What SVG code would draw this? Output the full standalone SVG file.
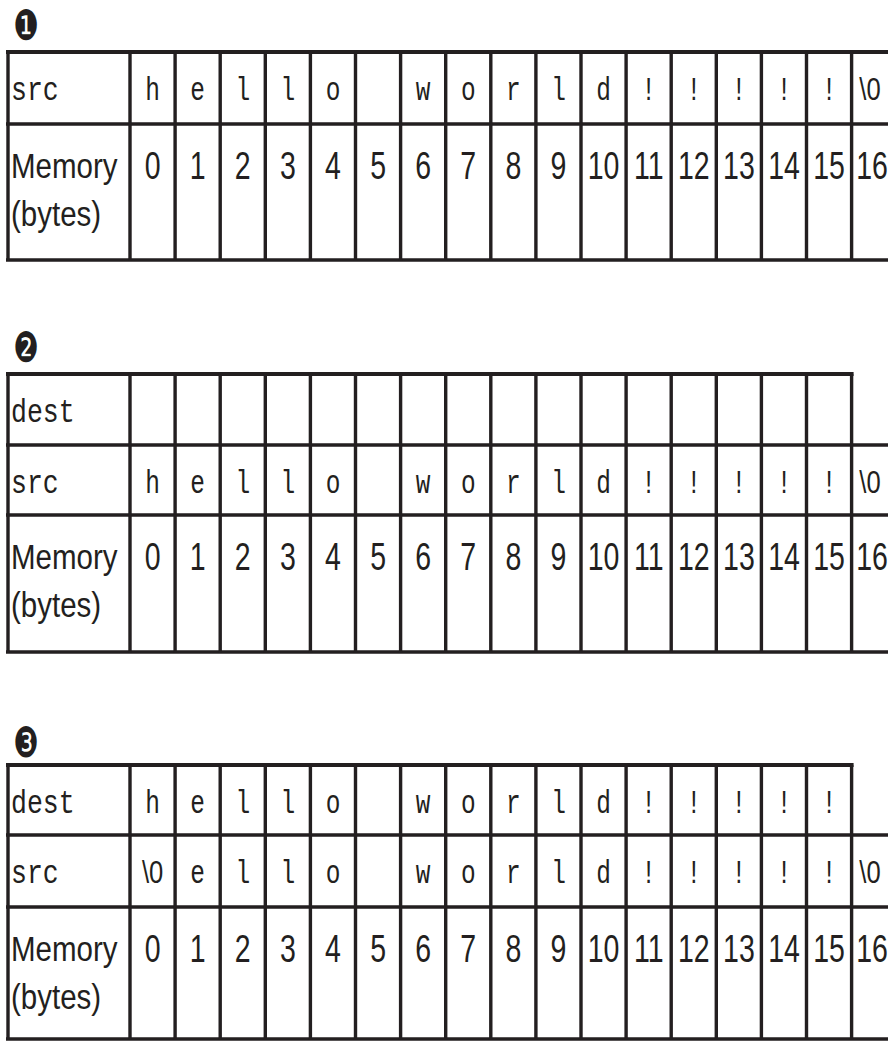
<svg xmlns="http://www.w3.org/2000/svg" width="888" height="1042" viewBox="0 0 888 1042">
<style>
.g{stroke:#231f20;stroke-width:3.4;fill:none}
.b{stroke:#231f20;stroke-width:4.2;fill:none}
.m{font-family:"Liberation Mono",monospace;font-size:34px;fill:#231f20;text-anchor:middle}
.ml{font-family:"Liberation Mono",monospace;font-size:34px;fill:#231f20}
.z{font-family:"Liberation Sans",sans-serif;font-size:32px;fill:#231f20;text-anchor:middle}
.s{font-family:"Liberation Sans",sans-serif;font-size:38px;fill:#231f20;text-anchor:middle}
.sl{font-family:"Liberation Sans",sans-serif;font-size:36px;fill:#231f20}
.c{font-family:"DejaVu Sans",sans-serif;font-size:42px;fill:#231f20;text-anchor:middle}
</style>
<rect width="888" height="1042" fill="#fff"/>
<g id="connectors"/>

<g id="panel1">
  <text class="c" transform="translate(26,40) scale(0.68,1)">❶</text>
  <g id="grid1">
    <path class="b" d="M6 52H890"/>
    <path class="g" d="M6 124H890M6 260H890"/>
    <path class="g" d="M8 52V261M130 52V261M175.1 52V261M220.2 52V261M265.3 52V261M310.4 52V261M355.5 52V261M400.6 52V261M445.7 52V261M490.8 52V261M535.9 52V261M581 52V261M626.1 52V261M671.2 52V261M716.3 52V261M761.4 52V261M806.5 52V261M851.6 52V261"/>
  </g>
  <g id="row1-src">
    <text class="ml" transform="translate(11,100) scale(0.78,1)">src</text>
    <text class="m" transform="translate(152.6,100) scale(0.72,1)">h</text>
    <text class="m" transform="translate(197.7,100) scale(0.72,1)">e</text>
    <text class="m" transform="translate(242.8,100) scale(0.72,1)">l</text>
    <text class="m" transform="translate(287.9,100) scale(0.72,1)">l</text>
    <text class="m" transform="translate(333,100) scale(0.72,1)">o</text>
    <text class="m" transform="translate(423.2,100) scale(0.72,1)">w</text>
    <text class="m" transform="translate(468.3,100) scale(0.72,1)">o</text>
    <text class="m" transform="translate(513.4,100) scale(0.72,1)">r</text>
    <text class="m" transform="translate(558.5,100) scale(0.72,1)">l</text>
    <text class="m" transform="translate(603.6,100) scale(0.72,1)">d</text>
    <text class="m" transform="translate(648.7,100) scale(0.72,1)">!</text>
    <text class="m" transform="translate(693.8,100) scale(0.72,1)">!</text>
    <text class="m" transform="translate(738.9,100) scale(0.72,1)">!</text>
    <text class="m" transform="translate(784,100) scale(0.72,1)">!</text>
    <text class="m" transform="translate(829.1,100) scale(0.72,1)">!</text>
    <text class="z" transform="translate(870,100) scale(0.8,1)">\0</text>
  </g>
  <g id="row1-mem">
    <text class="sl" transform="translate(11,178) scale(0.82,1)">Memory</text>
    <text class="sl" transform="translate(11,226) scale(0.82,1)">(bytes)</text>
    <text class="s" transform="translate(152.6,179) scale(0.75,1)">0</text>
    <text class="s" transform="translate(197.7,179) scale(0.75,1)">1</text>
    <text class="s" transform="translate(242.8,179) scale(0.75,1)">2</text>
    <text class="s" transform="translate(287.9,179) scale(0.75,1)">3</text>
    <text class="s" transform="translate(333,179) scale(0.75,1)">4</text>
    <text class="s" transform="translate(378.1,179) scale(0.75,1)">5</text>
    <text class="s" transform="translate(423.2,179) scale(0.75,1)">6</text>
    <text class="s" transform="translate(468.3,179) scale(0.75,1)">7</text>
    <text class="s" transform="translate(513.4,179) scale(0.75,1)">8</text>
    <text class="s" transform="translate(558.5,179) scale(0.75,1)">9</text>
    <text class="s" transform="translate(603.6,179) scale(0.75,1)">10</text>
    <text class="s" transform="translate(648.7,179) scale(0.75,1)">11</text>
    <text class="s" transform="translate(693.8,179) scale(0.75,1)">12</text>
    <text class="s" transform="translate(738.9,179) scale(0.75,1)">13</text>
    <text class="s" transform="translate(784,179) scale(0.75,1)">14</text>
    <text class="s" transform="translate(829.1,179) scale(0.75,1)">15</text>
    <text class="s" transform="translate(872,179) scale(0.75,1)">16</text>
  </g>
</g>

<g id="panel2">
  <text class="c" transform="translate(26,362) scale(0.68,1)">❷</text>
  <g id="grid2">
    <path class="b" d="M6 374H853.6"/>
    <path class="g" d="M6 445H890M6 515H890M6 652H890"/>
    <path class="g" d="M8 374V653M130 374V653M175.1 374V653M220.2 374V653M265.3 374V653M310.4 374V653M355.5 374V653M400.6 374V653M445.7 374V653M490.8 374V653M535.9 374V653M581 374V653M626.1 374V653M671.2 374V653M716.3 374V653M761.4 374V653M806.5 374V653M851.6 374V653"/>
  </g>
  <g id="row2-dest">
    <text class="ml" transform="translate(11,422) scale(0.78,1)">dest</text>
  </g>
  <g id="row2-src">
    <text class="ml" transform="translate(11,493) scale(0.78,1)">src</text>
    <text class="m" transform="translate(152.6,493) scale(0.72,1)">h</text>
    <text class="m" transform="translate(197.7,493) scale(0.72,1)">e</text>
    <text class="m" transform="translate(242.8,493) scale(0.72,1)">l</text>
    <text class="m" transform="translate(287.9,493) scale(0.72,1)">l</text>
    <text class="m" transform="translate(333,493) scale(0.72,1)">o</text>
    <text class="m" transform="translate(423.2,493) scale(0.72,1)">w</text>
    <text class="m" transform="translate(468.3,493) scale(0.72,1)">o</text>
    <text class="m" transform="translate(513.4,493) scale(0.72,1)">r</text>
    <text class="m" transform="translate(558.5,493) scale(0.72,1)">l</text>
    <text class="m" transform="translate(603.6,493) scale(0.72,1)">d</text>
    <text class="m" transform="translate(648.7,493) scale(0.72,1)">!</text>
    <text class="m" transform="translate(693.8,493) scale(0.72,1)">!</text>
    <text class="m" transform="translate(738.9,493) scale(0.72,1)">!</text>
    <text class="m" transform="translate(784,493) scale(0.72,1)">!</text>
    <text class="m" transform="translate(829.1,493) scale(0.72,1)">!</text>
    <text class="z" transform="translate(870,493) scale(0.8,1)">\0</text>
  </g>
  <g id="row2-mem">
    <text class="sl" transform="translate(11,569) scale(0.82,1)">Memory</text>
    <text class="sl" transform="translate(11,617) scale(0.82,1)">(bytes)</text>
    <text class="s" transform="translate(152.6,570) scale(0.75,1)">0</text>
    <text class="s" transform="translate(197.7,570) scale(0.75,1)">1</text>
    <text class="s" transform="translate(242.8,570) scale(0.75,1)">2</text>
    <text class="s" transform="translate(287.9,570) scale(0.75,1)">3</text>
    <text class="s" transform="translate(333,570) scale(0.75,1)">4</text>
    <text class="s" transform="translate(378.1,570) scale(0.75,1)">5</text>
    <text class="s" transform="translate(423.2,570) scale(0.75,1)">6</text>
    <text class="s" transform="translate(468.3,570) scale(0.75,1)">7</text>
    <text class="s" transform="translate(513.4,570) scale(0.75,1)">8</text>
    <text class="s" transform="translate(558.5,570) scale(0.75,1)">9</text>
    <text class="s" transform="translate(603.6,570) scale(0.75,1)">10</text>
    <text class="s" transform="translate(648.7,570) scale(0.75,1)">11</text>
    <text class="s" transform="translate(693.8,570) scale(0.75,1)">12</text>
    <text class="s" transform="translate(738.9,570) scale(0.75,1)">13</text>
    <text class="s" transform="translate(784,570) scale(0.75,1)">14</text>
    <text class="s" transform="translate(829.1,570) scale(0.75,1)">15</text>
    <text class="s" transform="translate(872,570) scale(0.75,1)">16</text>
  </g>
</g>

<g id="panel3">
  <text class="c" transform="translate(26,757) scale(0.68,1)">❸</text>
  <g id="grid3">
    <path class="b" d="M6 765H853.6"/>
    <path class="g" d="M6 835H890M6 907H890M6 1039H890"/>
    <path class="g" d="M8 765V1040M130 765V1040M175.1 765V1040M220.2 765V1040M265.3 765V1040M310.4 765V1040M355.5 765V1040M400.6 765V1040M445.7 765V1040M490.8 765V1040M535.9 765V1040M581 765V1040M626.1 765V1040M671.2 765V1040M716.3 765V1040M761.4 765V1040M806.5 765V1040M851.6 765V1040"/>
  </g>
  <g id="row3-dest">
    <text class="ml" transform="translate(11,813) scale(0.78,1)">dest</text>
    <text class="m" transform="translate(152.6,813) scale(0.72,1)">h</text>
    <text class="m" transform="translate(197.7,813) scale(0.72,1)">e</text>
    <text class="m" transform="translate(242.8,813) scale(0.72,1)">l</text>
    <text class="m" transform="translate(287.9,813) scale(0.72,1)">l</text>
    <text class="m" transform="translate(333,813) scale(0.72,1)">o</text>
    <text class="m" transform="translate(423.2,813) scale(0.72,1)">w</text>
    <text class="m" transform="translate(468.3,813) scale(0.72,1)">o</text>
    <text class="m" transform="translate(513.4,813) scale(0.72,1)">r</text>
    <text class="m" transform="translate(558.5,813) scale(0.72,1)">l</text>
    <text class="m" transform="translate(603.6,813) scale(0.72,1)">d</text>
    <text class="m" transform="translate(648.7,813) scale(0.72,1)">!</text>
    <text class="m" transform="translate(693.8,813) scale(0.72,1)">!</text>
    <text class="m" transform="translate(738.9,813) scale(0.72,1)">!</text>
    <text class="m" transform="translate(784,813) scale(0.72,1)">!</text>
    <text class="m" transform="translate(829.1,813) scale(0.72,1)">!</text>
  </g>
  <g id="row3-src">
    <text class="ml" transform="translate(11,883) scale(0.78,1)">src</text>
    <text class="z" transform="translate(152.6,883) scale(0.8,1)">\0</text>
    <text class="m" transform="translate(197.7,883) scale(0.72,1)">e</text>
    <text class="m" transform="translate(242.8,883) scale(0.72,1)">l</text>
    <text class="m" transform="translate(287.9,883) scale(0.72,1)">l</text>
    <text class="m" transform="translate(333,883) scale(0.72,1)">o</text>
    <text class="m" transform="translate(423.2,883) scale(0.72,1)">w</text>
    <text class="m" transform="translate(468.3,883) scale(0.72,1)">o</text>
    <text class="m" transform="translate(513.4,883) scale(0.72,1)">r</text>
    <text class="m" transform="translate(558.5,883) scale(0.72,1)">l</text>
    <text class="m" transform="translate(603.6,883) scale(0.72,1)">d</text>
    <text class="m" transform="translate(648.7,883) scale(0.72,1)">!</text>
    <text class="m" transform="translate(693.8,883) scale(0.72,1)">!</text>
    <text class="m" transform="translate(738.9,883) scale(0.72,1)">!</text>
    <text class="m" transform="translate(784,883) scale(0.72,1)">!</text>
    <text class="m" transform="translate(829.1,883) scale(0.72,1)">!</text>
    <text class="z" transform="translate(870,883) scale(0.8,1)">\0</text>
  </g>
  <g id="row3-mem">
    <text class="sl" transform="translate(11,961) scale(0.82,1)">Memory</text>
    <text class="sl" transform="translate(11,1009) scale(0.82,1)">(bytes)</text>
    <text class="s" transform="translate(152.6,962) scale(0.75,1)">0</text>
    <text class="s" transform="translate(197.7,962) scale(0.75,1)">1</text>
    <text class="s" transform="translate(242.8,962) scale(0.75,1)">2</text>
    <text class="s" transform="translate(287.9,962) scale(0.75,1)">3</text>
    <text class="s" transform="translate(333,962) scale(0.75,1)">4</text>
    <text class="s" transform="translate(378.1,962) scale(0.75,1)">5</text>
    <text class="s" transform="translate(423.2,962) scale(0.75,1)">6</text>
    <text class="s" transform="translate(468.3,962) scale(0.75,1)">7</text>
    <text class="s" transform="translate(513.4,962) scale(0.75,1)">8</text>
    <text class="s" transform="translate(558.5,962) scale(0.75,1)">9</text>
    <text class="s" transform="translate(603.6,962) scale(0.75,1)">10</text>
    <text class="s" transform="translate(648.7,962) scale(0.75,1)">11</text>
    <text class="s" transform="translate(693.8,962) scale(0.75,1)">12</text>
    <text class="s" transform="translate(738.9,962) scale(0.75,1)">13</text>
    <text class="s" transform="translate(784,962) scale(0.75,1)">14</text>
    <text class="s" transform="translate(829.1,962) scale(0.75,1)">15</text>
    <text class="s" transform="translate(872,962) scale(0.75,1)">16</text>
  </g>
</g>
</svg>
